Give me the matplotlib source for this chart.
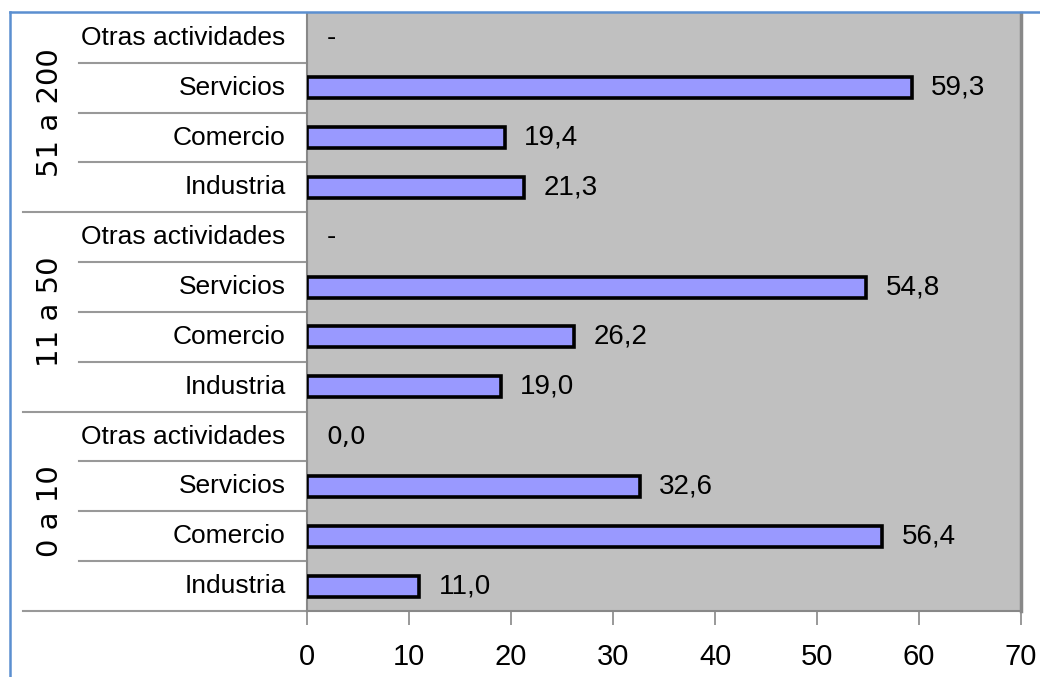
import matplotlib.pyplot as plt
from matplotlib.transforms import blended_transform_factory
from matplotlib.lines import Line2D

# datos: grupos de tamaño y sectores (de abajo hacia arriba)
grupos = ["0 a 10", "11 a 50", "51 a 200"]
sectores = ["Industria", "Comercio", "Servicios", "Otras actividades"]
valores_0_10 = [11.0, 56.4, 32.6, 0.0]
valores_11_50 = [19.0, 26.2, 54.8, None]
valores_51_200 = [21.3, 19.4, 59.3, None]
xticks = [0, 10, 20, 30, 40, 50, 60, 70]

NARROW = ["Liberation Sans Narrow", "Liberation Sans", "DejaVu Sans"]


def etiqueta(v):
    # None -> "-" como en la tabla original
    if v is None:
        return "-"
    return f"{v:.1f}".replace(".", ",")


valores = valores_0_10 + valores_11_50 + valores_51_200
nombres = sectores * len(grupos)
pos = list(range(len(valores)))

fig = plt.figure(figsize=(10.4, 6.77), dpi=100)
ax = fig.add_axes([307 / 1040, 1 - 611 / 677, 714 / 1040, 598 / 677])
ax.set_facecolor("#c0c0c0")

anchos = [v if v is not None else 0 for v in valores]
for p, v, w in zip(pos, valores, anchos):
    if v is not None and v > 0:
        ax.barh(p, w, height=0.42, color="#9999ff", edgecolor="black", linewidth=2.6, zorder=3)
    cero = v is not None and v == 0
    fam = ["DejaVu Sans"] if cero else NARROW
    size = 18 if cero else 20
    ax.annotate(etiqueta(v), xy=(w, p), xytext=(14, 0), textcoords="offset points",
                ha="left", va="center", fontsize=size, family=fam, color="black")

ax.set_xlim(0, 70)
ax.set_ylim(-0.5, len(valores) - 0.5)
ax.set_xticks(xticks)
ax.set_xticklabels([str(t) for t in xticks], family=NARROW, fontsize=21)
ax.tick_params(axis="x", length=10, width=1.2, color="#888888", pad=13)
ax.set_yticks([])

for lado in ["left", "bottom"]:
    ax.spines[lado].set_color("#888888")
    ax.spines[lado].set_linewidth(1.5)
ax.spines["right"].set_color("#888888")
ax.spines["right"].set_linewidth(2.5)
ax.spines["top"].set_visible(False)

# nombres de sectores a la izquierda
for p, n in zip(pos, nombres):
    ax.text(-2.1, p, n, ha="right", va="center", fontsize=19, family=NARROW,
            transform=ax.transData, clip_on=False)

# líneas separadoras en la zona de etiquetas
trans = blended_transform_factory(fig.transFigure, ax.transData)
for k in range(len(valores)):
    y = k - 0.5
    if k % len(sectores) == 0:
        x0 = 23 / 1040
    else:
        x0 = 79 / 1040
    ax.add_line(Line2D([x0, 307 / 1040], [y, y], transform=trans, color="#999999",
                       linewidth=1.5, clip_on=False))

# etiquetas de grupo, rotadas
for i, g in enumerate(grupos):
    centro = i * len(sectores) + (len(sectores) - 1) / 2
    ax.text(50 / 1040, centro, g, rotation=90, ha="center", va="center", fontsize=21,
            family="DejaVu Sans", transform=trans, clip_on=False)

# borde azul del marco
fig.add_artist(Line2D([10 / 1040, 1], [1 - 12 / 677, 1 - 12 / 677], color="#5b8fd0", linewidth=1.8))
fig.add_artist(Line2D([10 / 1040, 10 / 1040], [0, 1 - 12 / 677], color="#5b8fd0", linewidth=1.8))

fig.savefig("out.png", dpi=100)
